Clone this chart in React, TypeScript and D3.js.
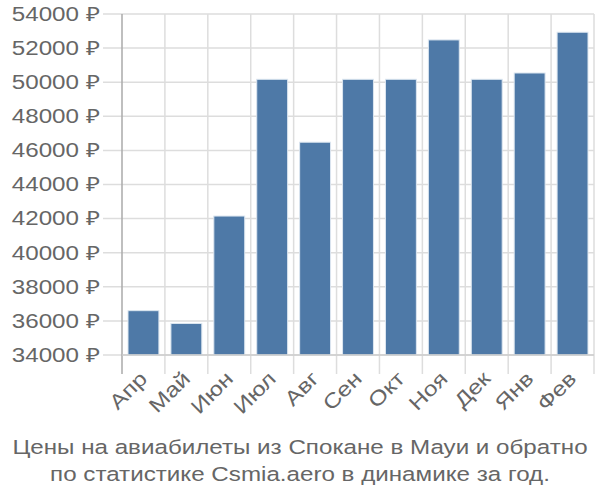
import React from "react";
import * as d3 from "d3";

const months = ["Апр", "Май", "Июн", "Июл", "Авг", "Сен", "Окт", "Ноя", "Дек", "Янв", "Фев"];
const prices = [36600, 35850, 42150, 50170, 46480, 50170, 50170, 52480, 50170, 50540, 52930];
const yTicks = [34000, 36000, 38000, 40000, 42000, 44000, 46000, 48000, 50000, 52000, 54000];
const titleLines = [
  "Цены на авиабилеты из Спокане в Мауи и обратно",
  "по статистике Csmia.aero в динамике за год.",
];

export default function App() {
  const W = 600, H = 500;
  const left = 122, right = 594, top = 14, bottom = 355;
  const x = d3.scaleBand<string>().domain(months).range([left, right]).paddingInner(0.28).paddingOuter(0.14);
  const band = d3.scaleBand<string>().domain(months).range([left, right]);
  const y = d3.scaleLinear().domain([34000, 54000]).range([bottom, top]);
  const font = "'Liberation Sans', Arial, sans-serif";
  const grid = "#dddddd";
  const sx = 1.24;
  return (
    <svg width={W} height={H} style={{ position: "absolute", left: 0, top: 0 }} fontFamily={font}>
      <rect width={W} height={H} fill="#fff" />
      {yTicks.map((t) => (
        <g key={t}>
          <line x1={103} x2={right} y1={y(t)} y2={y(t)} stroke={grid} strokeWidth={1.5} />
          <text transform={`translate(100,${y(t)}) scale(${sx},1)`} dy="0.35em" textAnchor="end" fontSize={19.5} fill="#666">
            {t} ₽
          </text>
        </g>
      ))}
      {months.map((m) => (
        <line key={m} x1={band(m)! + band.bandwidth()} x2={band(m)! + band.bandwidth()} y1={top} y2={374} stroke={grid} strokeWidth={1.5} />
      ))}
      <line x1={left} x2={left} y1={top} y2={374} stroke="#aaa" strokeWidth={1.5} />
      {months.map((m, i) => (
        <rect key={m} x={x(m)} y={y(prices[i])} width={x.bandwidth()} height={bottom - y(prices[i])} fill="#4e79a7" stroke="#dce6f0" strokeWidth={1} />
      ))}
      <line x1={left} x2={right} y1={bottom} y2={bottom} stroke="#ccc" strokeWidth={1.5} />
      {months.map((m) => {
        const cx = band(m)! + band.bandwidth() / 2 + 5;
        return (
          <text key={m} transform={`translate(${cx},${380}) rotate(-45) scale(1.2,1)`} textAnchor="end" fontSize={20.5} fill="#666">
            {m}
          </text>
        );
      })}
      {titleLines.map((l, i) => (
        <text key={i} transform={`translate(300,${454 + i * 27}) scale(${sx},1)`} textAnchor="middle" fontSize={19.5} fill="#666">
          {l}
        </text>
      ))}
    </svg>
  );
}
